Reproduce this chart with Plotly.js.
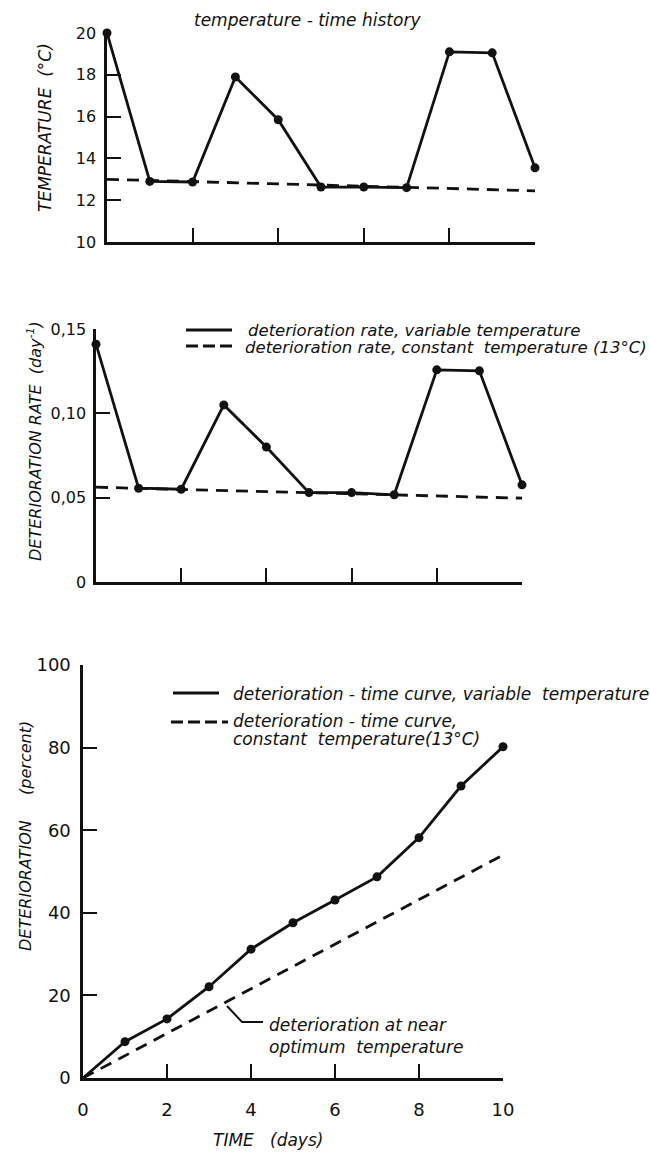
<!DOCTYPE html>
<html>
<head>
<meta charset="utf-8">
<script src="https://cdn.plot.ly/plotly-3.0.1.min.js"></script>
<style>html,body{margin:0;padding:0;background:#fff;}#chart{width:650px;height:1157px;}</style>
</head>
<body>
<div id="chart"></div>
<script>
// ---------- data ----------
const days = [0, 1, 2, 3, 4, 5, 6, 7, 8, 9, 10];
const constDays = [0, 10];
const markedDays = [1, 2, 3, 4, 5, 6, 7, 8, 9, 10];

// temperature-time history (°C)
const tempVariable = [20, 12.9, 12.87, 17.9, 15.85, 12.63, 12.63, 12.6, 19.1, 19.05, 13.55];
const tempConstant = [13.0, 12.45];

// deterioration rate (day^-1)
const rateVariable = [0.141, 0.0556, 0.055, 0.105, 0.080, 0.053, 0.053, 0.0517, 0.1258, 0.1252, 0.0576];
const rateConstant = [0.0562, 0.0497];

// deterioration (percent)
const detVariable = [0, 8.8, 14.3, 22.1, 31.2, 37.6, 43.1, 48.7, 58.2, 70.7, 80.2];
const detConstant = [0, 54];

// tick labels
const tempTicks = [10, 12, 14, 16, 18, 20];
const rateTicks = [0, 0.05, 0.10, 0.15];
const rateTickText = ['0', '0,05', '0,10', '0,15'];
const detTicks = [0, 20, 40, 60, 80, 100];
const timeTicks = [0, 2, 4, 6, 8, 10];
const innerTimeTicks = [2, 4, 6, 8, 10];

// text
const titleTop = 'temperature - time history';
const yTitleTop = 'TEMPERATURE\u00a0\u00a0(°C)';
const yTitleMid = 'DETERIORATION RATE\u00a0\u00a0(day<sup>-1</sup>)';
const yTitleBot = 'DETERIORATION\u00a0\u00a0\u00a0\u00a0\u00a0(percent)';
const xTitleBot = 'TIME\u00a0\u00a0\u00a0(days)';
const legMid1 = 'deterioration rate, variable temperature';
const legMid2 = 'deterioration rate, constant\u00a0 temperature (13°C)';
const legBot1 = 'deterioration - time curve, variable\u00a0 temperature';
const legBot2 = 'deterioration - time curve,';
const legBot3 = 'constant\u00a0 temperature(13°C)';
const noteBot1 = 'deterioration at near';
const noteBot2 = 'optimum\u00a0 temperature';

// ---------- layout helpers ----------
const W = 650, H = 1157;
const px = v => v / W;
const py = v => 1 - v / H;
const FONT = 'DejaVu Sans, Liberation Sans, sans-serif';
const ink = '#111';

const solid = {color: ink, width: 2.8};
const dashed = {color: ink, width: 2.8, dash: '12px,8px'};

const traces = [
  {x: days, y: tempVariable, xaxis: 'x', yaxis: 'y', mode: 'lines+markers', line: solid,
   marker: {size: 9, color: ink}, cliponaxis: false, showlegend: false},
  {x: constDays, y: tempConstant, xaxis: 'x', yaxis: 'y', mode: 'lines', line: dashed,
   cliponaxis: false, showlegend: false},
  {x: days, y: rateVariable, xaxis: 'x2', yaxis: 'y2', mode: 'lines+markers', line: solid,
   marker: {size: 9, color: ink}, cliponaxis: false, showlegend: false},
  {x: constDays, y: rateConstant, xaxis: 'x2', yaxis: 'y2', mode: 'lines', line: dashed,
   cliponaxis: false, showlegend: false},
  {x: days, y: detVariable, xaxis: 'x3', yaxis: 'y3', mode: 'lines', line: solid,
   cliponaxis: false, showlegend: false},
  {x: markedDays, y: detVariable.slice(1), xaxis: 'x3', yaxis: 'y3', mode: 'markers',
   marker: {size: 9, color: ink}, cliponaxis: false, showlegend: false},
  {x: constDays, y: detConstant, xaxis: 'x3', yaxis: 'y3', mode: 'lines', line: dashed,
   cliponaxis: false, showlegend: false}
];

function xAxis(domain, anchor, labels) {
  return {
    domain: domain, anchor: anchor, range: [0, 10],
    showline: true, linecolor: ink, linewidth: 2.6, mirror: false,
    ticks: 'inside', ticklen: 14, tickwidth: 2, tickcolor: ink,
    tickvals: labels ? timeTicks : innerTimeTicks,
    ticktext: labels ? timeTicks.map(String) : innerTimeTicks.map(String),
    showticklabels: !!labels, ticklabelstandoff: labels ? 14 : 0,
    tickfont: {family: FONT, size: 18, color: ink},
    showgrid: false, zeroline: false, fixedrange: true
  };
}
function yAxis(domain, anchor, range, vals, text, size, standoff) {
  return {
    domain: domain, anchor: anchor, range: range,
    showline: true, linecolor: ink, linewidth: 2.6,
    ticks: 'inside', ticklen: 14, tickwidth: 2, tickcolor: ink,
    tickvals: vals, ticktext: text, ticklabelstandoff: standoff,
    tickfont: {family: FONT, size: size, color: ink},
    showgrid: false, zeroline: false, fixedrange: true
  };
}

const layout = {
  width: W, height: H,
  margin: {l: 0, r: 0, t: 0, b: 0},
  paper_bgcolor: '#fff', plot_bgcolor: 'rgba(0,0,0,0)',
  showlegend: false,
  xaxis: xAxis([px(107), px(535)], 'y', false),
  yaxis: yAxis([py(242), py(33)], 'x', [10, 20], tempTicks, tempTicks.map(String), 16, 5),
  xaxis2: xAxis([px(96), px(522)], 'y2', false),
  yaxis2: yAxis([py(582), py(329)], 'x2', [0, 0.15], rateTicks, rateTickText, 16, 4),
  xaxis3: xAxis([px(83), px(503)], 'y3', true),
  yaxis3: yAxis([py(1078), py(665)], 'x3', [0, 100], detTicks, detTicks.map(String), 18, 6),
  shapes: [
    // legend samples, middle panel
    {type: 'line', xref: 'paper', yref: 'paper', x0: px(186), x1: px(232), y0: py(330), y1: py(330), line: {color: ink, width: 2.8}},
    {type: 'line', xref: 'paper', yref: 'paper', x0: px(186), x1: px(236), y0: py(346), y1: py(346), line: {color: ink, width: 2.8, dash: '12px,5px'}},
    // legend samples, bottom panel
    {type: 'line', xref: 'paper', yref: 'paper', x0: px(173), x1: px(219), y0: py(693), y1: py(693), line: {color: ink, width: 2.8}},
    {type: 'line', xref: 'paper', yref: 'paper', x0: px(171), x1: px(228), y0: py(722), y1: py(722), line: {color: ink, width: 2.8, dash: '12px,5px'}},
    // leader for the near-optimum note
    {type: 'path', xref: 'paper', yref: 'paper',
     path: `M ${px(227)} ${py(1006)} L ${px(242)} ${py(1022)} L ${px(263)} ${py(1022)}`,
     line: {color: ink, width: 2}}
  ],
  annotations: []
};

function note(text, x, y, opts) {
  return Object.assign({
    text: '<i>' + text + '</i>', xref: 'paper', yref: 'paper', x: px(x), y: py(y),
    xanchor: 'left', yanchor: 'middle', showarrow: false,
    font: {family: FONT, size: 17, color: ink}
  }, opts || {});
}

layout.annotations.push(
  note(titleTop, 307, 20, {xanchor: 'center'}),
  note(yTitleTop, 45, 128, {xanchor: 'center', textangle: -90}),
  note(yTitleMid, 35, 441, {xanchor: 'center', textangle: -90, font: {family: FONT, size: 16, color: ink}}),
  note(yTitleBot, 25, 836, {xanchor: 'center', textangle: -90, font: {family: FONT, size: 16, color: ink}}),
  note(xTitleBot, 268, 1140, {xanchor: 'center'}),
  note(legMid1, 246, 331, {font: {family: FONT, size: 16.5, color: ink}}),
  note(legMid2, 243, 347, {font: {family: FONT, size: 16.5, color: ink}}),
  note(legBot1, 231, 694),
  note(legBot2, 231, 721),
  note(legBot3, 231, 739),
  note(noteBot1, 267, 1025),
  note(noteBot2, 267, 1047)
);

Plotly.newPlot('chart', traces, layout, {staticPlot: true, displayModeBar: false});
</script>
</body>
</html>
